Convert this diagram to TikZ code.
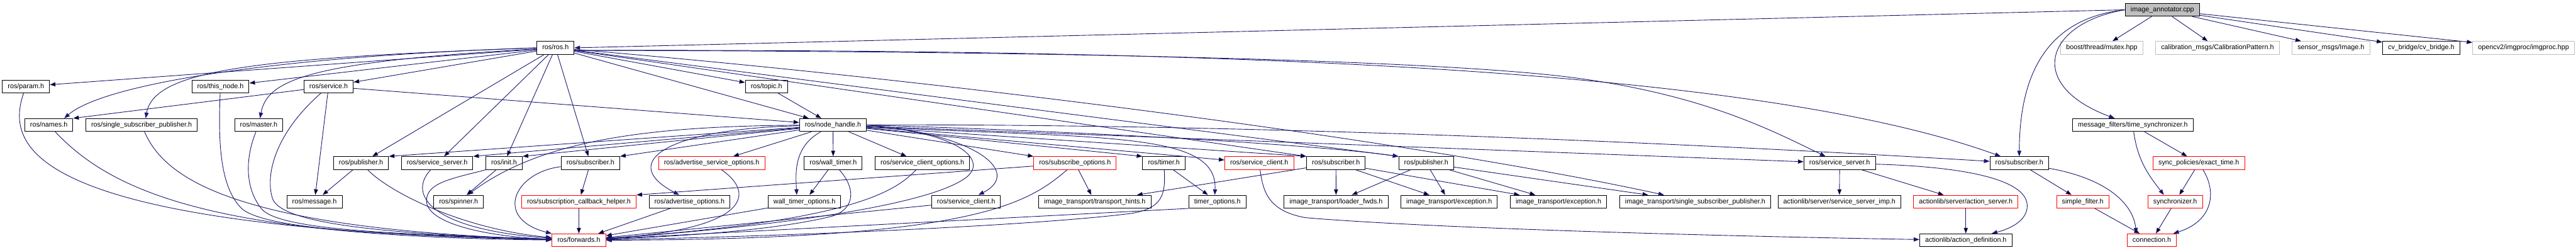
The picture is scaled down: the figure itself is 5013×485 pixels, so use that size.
\documentclass[tikz,border=0pt]{standalone}
\usepackage{fontspec}
\setmainfont{Liberation Sans}
\usetikzlibrary{arrows.meta,positioning}
\definecolor{edgeblue}{HTML}{191970}
\definecolor{grey75}{HTML}{BFBFBF}

\begin{document}
\begin{tikzpicture}[x=1pt, y=1pt, node distance=24pt,
  incl/.style={rectangle, draw=black, line width=1.2pt, minimum height=25pt,
    inner xsep=10.5pt, inner ysep=0pt, text height=9.6pt, text depth=2.9pt,
    font=\fontsize{13.2pt}{15pt}\selectfont},
  rednode/.style={incl, draw=red},
  graynode/.style={incl, draw=grey75},
  mainfile/.style={incl, fill=grey75},
  dep/.style={draw=edgeblue, line width=1.1pt, -{Triangle[length=11pt, width=8pt]}}]

  \useasboundingbox (0,0) rectangle (5013,485);

  % top: the file itself and what it pulls in directly
  \node[mainfile] (annot) at (4208,466) {image\_annotator.cpp};
  \node[incl] (ros) at (1081,392) {ros/ros.h};
  \node[graynode] (opencv) at (4911,392) {opencv2/imgproc/imgproc.hpp};
  \node[incl, left=of opencv] (cvb) {cv\_bridge/cv\_bridge.h};
  \node[graynode, left=of cvb] (sensor) {sensor\_msgs/Image.h};
  \node[graynode, left=of sensor] (calib) {calibration\_msgs/CalibrationPattern.h};
  \node[graynode, left=of calib] (mutex) {boost/thread/mutex.hpp};

  % ros headers
  \node[incl] (param) at (50.5,317) {ros/param.h};
  \node[incl] (thisnode) at (429,317) {ros/this\_node.h};
  \node[incl] (service) at (639.5,317) {ros/service.h};
  \node[incl] (topic) at (1491.5,317) {ros/topic.h};

  \node[incl] (names) at (95,242) {ros/names.h};
  \node[incl, right=of names] (sspub) {ros/single\_subscriber\_publisher.h};
  \node[incl] (master) at (503.5,242) {ros/master.h};
  \node[incl] (nh) at (1621,242) {ros/node\_handle.h};
  \node[incl] (tsync) at (4150.5,242) {message\_filters/time\_synchronizer.h};

  \node[incl] (pub) at (702.5,168) {ros/publisher.h};
  \node[incl, right=of pub] (ssrv) {ros/service\_server.h};
  \node[incl, right=of ssrv] (init) {ros/init.h};
  \node[incl] (sub) at (1149,168) {ros/subscriber.h};
  \node[rednode] (aso) at (1385,168) {ros/advertise\_service\_options.h};
  \node[incl] (wtimer) at (1621.5,168) {ros/wall\_timer.h};
  \node[incl, right=of wtimer] (sco) {ros/service\_client\_options.h};
  \node[rednode] (subopt) at (2092,168) {ros/subscribe\_options.h};
  \node[incl] (timer) at (2265,168) {ros/timer.h};
  \node[rednode] (sclientr) at (2450.5,168) {ros/service\_client.h};
  \node[incl, right=of sclientr] (isub) {ros/subscriber.h};
  \node[incl] (ipub) at (2775.5,168) {ros/publisher.h};
  \node[incl] (rssrv) at (3580,168) {ros/service\_server.h};
  \node[incl] (rsub) at (3929.5,168) {ros/subscriber.h};
  \node[rednode] (exact) at (4279,168) {sync\_policies/exact\_time.h};

  \node[incl] (msg) at (612,93) {ros/message.h};
  \node[incl] (spin) at (892.5,93) {ros/spinner.h};
  \node[rednode] (sch) at (1126.5,93) {ros/subscription\_callback\_helper.h};
  \node[incl, right=of sch] (ao) {ros/advertise\_options.h};
  \node[incl] (wto) at (1565.5,93) {wall\_timer\_options.h};
  \node[incl] (sclient) at (1880,93) {ros/service\_client.h};
  \node[incl] (hints) at (2130.5,93) {image\_transport/transport\_hints.h};
  \node[incl] (topt) at (2369,93) {timer\_options.h};
  \node[incl] (lfwds) at (2600,93) {image\_transport/loader\_fwds.h};
  \node[incl, right=of lfwds] (exc1) {image\_transport/exception.h};
  \node[incl, right=of exc1] (exc2) {image\_transport/exception.h};
  \node[incl, right=of exc2] (issp) {image\_transport/single\_subscriber\_publisher.h};
  \node[incl] (ssimp) at (3579.5,93) {actionlib/server/service\_server\_imp.h};
  \node[rednode] (aserv) at (3825.5,93) {actionlib/server/action\_server.h};
  \node[rednode] (sfilt) at (4053,93) {simple\_filter.h};
  \node[rednode] (synch) at (4233,93) {synchronizer.h};

  \node[rednode] (fwd) at (1126.5,18) {ros/forwards.h};
  \node[incl] (adef) at (3825.5,18) {actionlib/action\_definition.h};
  \node[rednode] (conn) at (4187.5,18) {connection.h};

  % image_annotator.cpp
  \draw[dep] (annot.west) -- (ros.east);
  \path[dep] (annot) edge (mutex) edge (calib) edge (sensor) edge (cvb) edge (opencv);
  \draw[dep] (annot.west) .. controls (3990,450) and (3930,350) .. (rsub);
  \draw[dep] (annot.west) .. controls (3980,440) and (3940,320) .. (tsync);

  % ros/ros.h
  \path[dep] (ros) edge (param) edge (thisnode) edge (service) edge (pub)
                   edge (ssrv) edge (init) edge (sub) edge (topic) edge (nh)
                   edge (isub.north west) edge (ipub.north west);
  \draw[dep] (ros.west) .. controls (520,375) and (200,320) .. ([xshift=30pt]names.north);
  \draw[dep] (ros.west) .. controls (500,372) and (300,350) .. ([xshift=8pt]sspub.north);
  \draw[dep] (ros) .. controls (600,365) and (520,330) .. (master);
  \draw[dep] (ros) .. controls (1817,331) and (2735,215) .. (issp);
  \draw[dep] ([yshift=-5pt]ros.east) .. controls (2300,390) and (3400,360) .. (rsub);
  \draw[dep] ([yshift=-5pt]ros.east) .. controls (2000,386) and (2700,370) .. (3000,341)
             .. controls (3300,312) and (3450,230) .. (rssrv);

  % second level
  \path[dep] (service) edge (names.north east) edge (msg) edge (nh);
  \draw[dep] (service) .. controls (540,230) and (515,150) .. (530,100)
             .. controls (545,50) and (750,30) .. (fwd);
  \path[dep] (topic) edge (nh);
  \draw[dep] (param) .. controls (10,200) and (50,40) .. (fwd);
  \draw[dep] (thisnode) .. controls (424,200) and (430,120) .. (470,80)
             .. controls (520,35) and (800,28) .. (fwd);
  \draw[dep] (names) .. controls (220,110) and (420,25) .. (fwd);
  \draw[dep] (sspub) .. controls (320,140) and (450,40) .. (fwd);
  \draw[dep] (master) .. controls (478,180) and (475,120) .. (510,78)
             .. controls (550,35) and (800,30) .. (fwd);

  % ros/node_handle.h
  \path[dep] (nh) edge (pub.north east) edge (ssrv.north east) edge (init.north east)
                  edge (sub.north east) edge (aso) edge (wtimer) edge (sco)
                  edge (subopt.north west) edge (timer.north west) edge (sclientr)
                  edge (isub.north west) edge (rssrv);
  \draw[dep] (nh) .. controls (1250,240) and (1050,210) .. (spin);
  \draw[dep] (nh) .. controls (1300,235) and (1200,170) .. ([xshift=-20pt]ao.north);
  \draw[dep] (nh) .. controls (1545,200) and (1548,150) .. ([xshift=-15pt]wto.north);
  \draw[dep] (nh.east) .. controls (1900,225) and (1990,150) .. ([xshift=24pt]sclient.north);
  \draw[dep] (nh.east) .. controls (1880,225) and (1920,170) .. (1880,140)
             .. controls (1800,80) and (1450,40) .. (fwd);
  \draw[dep] (nh) .. controls (2150,215) and (2370,230) .. ([xshift=-5pt]topt.north);
  \draw[dep] (nh.east) .. controls (2100,230) and (2550,205) .. (ipub.north west);
  \draw[dep] (nh) .. controls (2500,245) and (3400,200) .. (rsub);

  % third level
  \path[dep] (pub) edge (msg);
  \draw[dep] (pub) .. controls (760,110) and (900,40) .. (fwd);
  \draw[dep] (ssrv) .. controls (795,110) and (830,40) .. (fwd);
  \path[dep] (init) edge (spin);
  \draw[dep] (init.south west) .. controls (880,138) and (830,130) .. (830,95)
             .. controls (830,50) and (950,25) .. (fwd);
  \path[dep] (sub) edge (sch);
  \draw[dep] (sub) .. controls (1000,150) and (960,60) .. (fwd.north west);
  \path[dep] (sch) edge (fwd);
  \path[dep] (ao) edge (fwd);
  \draw[dep] (aso) .. controls (1470,110) and (1460,40) .. (fwd);
  \path[dep] (wtimer) edge (wto);
  \draw[dep] (wtimer) .. controls (1665,120) and (1665,80) .. (1620,65)
             .. controls (1500,35) and (1300,25) .. (fwd);
  \path[dep] (wto) edge (fwd);
  \draw[dep] (sco) .. controls (1740,110) and (1650,55) .. (fwd);
  \path[dep] (sclient) edge (fwd);
  \path[dep] (subopt) edge (sch.north east) edge (hints);
  \draw[dep] (subopt) .. controls (2000,90) and (1900,20) .. (fwd);
  \path[dep] (timer) edge (topt);
  \draw[dep] (timer) .. controls (2268,110) and (2265,80) .. (2200,70)
             .. controls (2000,45) and (1500,25) .. (fwd);
  \draw[dep] (topt.south west) -- (fwd);
  \draw[dep] (sclientr) .. controls (2458,110) and (2470,75) .. (2540,62)
             .. controls (2800,40) and (3400,25) .. (adef);

  % image_transport, actionlib, message_filters
  \path[dep] (isub) edge (lfwds) edge (exc1) edge (exc2) edge (hints);
  \path[dep] (ipub) edge (lfwds) edge (exc1) edge (exc2) edge (issp);
  \path[dep] (rssrv) edge (ssimp) edge (aserv);
  \draw[dep] (rssrv) .. controls (3850,160) and (3945,130) .. (3945,85)
             .. controls (3945,55) and (3910,40) .. (adef);
  \path[dep] (aserv) edge (adef);
  \path[dep] (rsub) edge (sfilt);
  \draw[dep] (rsub) .. controls (4090,140) and (4150,95) .. ([xshift=-30pt]conn.north);
  \path[dep] (sfilt) edge (conn);
  \path[dep] (tsync) edge (exact);
  \draw[dep] (tsync) .. controls (4160,170) and (4185,140) .. ([xshift=-22pt]synch.north);
  \path[dep] (exact) edge (synch);
  \draw[dep] (exact) .. controls (4315,110) and (4305,55) .. (conn);
  \path[dep] (synch) edge (conn);

\end{tikzpicture}
\end{document}
